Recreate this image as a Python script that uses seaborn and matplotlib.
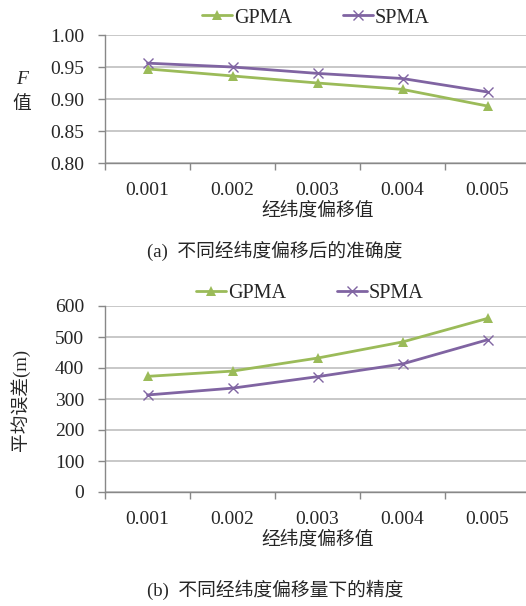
import matplotlib
matplotlib.use("Agg")
import matplotlib.pyplot as plt
import seaborn as sns
import pandas as pd
from matplotlib.ticker import FixedLocator
from matplotlib.lines import Line2D

offsets = ["0.001", "0.002", "0.003", "0.004", "0.005"]
f_gpma = [0.947, 0.936, 0.925, 0.915, 0.889]
f_spma = [0.956, 0.950, 0.940, 0.932, 0.911]
err_gpma = [373, 390, 432, 484, 560]
err_spma = [313, 335, 372, 413, 491]
series = ["GPMA", "SPMA"]

sns.set_theme(style="white")
FAM = ["Liberation Serif", "Noto Sans CJK SC", "DejaVu Sans"]
plt.rcParams["font.family"] = FAM
SERIF = "Liberation Serif"

green = "#9BBB59"
purple = "#8064A2"
grid = "#BFBFBF"
FS = 13.5
FSN = 14

fig = plt.figure(figsize=(5.26, 6.06), dpi=100)
W = 425 / 526
ax1 = fig.add_axes([105 / 526, 1 - 163 / 606, W, (163 - 35) / 606])
ax2 = fig.add_axes([105 / 526, 1 - 492 / 606, W, (492 - 306) / 606])

df1 = pd.DataFrame({"offset": offsets, "GPMA": f_gpma, "SPMA": f_spma})
df2 = pd.DataFrame({"offset": offsets, "GPMA": err_gpma, "SPMA": err_spma})


def draw(ax, df, ylim, yticks, yfmt):
    sns.lineplot(data=df, x="offset", y="GPMA", color=green, marker="^",
                 markersize=7, linewidth=2, markeredgewidth=0, mec=green, ax=ax)
    sns.lineplot(data=df, x="offset", y="SPMA", color=purple, marker="x",
                 markersize=6.5, linewidth=2, markeredgewidth=1.0, mec=purple, ax=ax)
    ax.set_xlim(-0.5, 4.5)
    ax.set_ylim(*ylim)
    ax.set_yticks(yticks)
    ax.set_yticklabels([yfmt(v) for v in yticks], fontsize=FSN, fontfamily=SERIF)
    ax.set_xticks(range(5))
    ax.set_xticklabels(offsets, fontsize=FSN, fontfamily=SERIF)
    ax.xaxis.set_minor_locator(FixedLocator([-0.5, 0.5, 1.5, 2.5, 3.5, 4.5]))
    ax.tick_params(axis="x", which="major", length=0, pad=14)
    ax.tick_params(axis="x", which="minor", length=5, color="#888888", width=1, direction="out", bottom=True)
    ax.tick_params(axis="y", length=5, color="#888888", width=1, direction="out", left=True, pad=10)
    ax.grid(axis="y", color=grid, linewidth=1.2)
    ax.set_axisbelow(True)
    for s in ["top", "right"]:
        ax.spines[s].set_visible(False)
    for s in ["left", "bottom"]:
        ax.spines[s].set_color("#888888")
        ax.spines[s].set_linewidth(1)
    ax.set_xlabel("经纬度偏移值", fontsize=FS, labelpad=2, fontfamily=FAM)
    ax.set_ylabel("")
    ax.set_facecolor("none")


draw(ax1, df1, (0.80, 1.00), [0.80, 0.85, 0.90, 0.95, 1.00], lambda v: f"{v:.2f}")
draw(ax2, df2, (0, 600), [0, 100, 200, 300, 400, 500, 600], lambda v: f"{v:d}")

# Y labels
fig.text(22 / 526, 1 - 80 / 606, "F", fontsize=FSN, style="italic", ha="center", va="center", fontfamily=SERIF)
fig.text(22 / 526, 1 - 104 / 606, "值", fontsize=FS, ha="center", va="center", fontfamily=FAM)
fig.text(20 / 526, 1 - 400 / 606, "平均误差(m)", fontsize=FS, rotation=90, ha="center", va="center", fontfamily=FAM)

# Legends
h = [Line2D([], [], color=green, marker="^", lw=2, markersize=7, markeredgewidth=0),
     Line2D([], [], color=purple, marker="x", lw=2, markersize=6.5, markeredgewidth=1.0)]
for ypix, xpix in [(18, 316), (293, 310)]:
    fig.legend(h, series, loc="center", bbox_to_anchor=(xpix / 526, 1 - ypix / 606), ncol=2,
               frameon=False, prop={"family": SERIF, "size": 14.5}, handlelength=1.5, handletextpad=0.1,
               columnspacing=2.5, borderpad=0)

# Captions
fig.text(275 / 526, 1 - 251 / 606, "(a)  不同经纬度偏移后的准确度", fontsize=FS, ha="center", va="center", fontfamily=FAM)
fig.text(275 / 526, 1 - 590 / 606, "(b)  不同经纬度偏移量下的精度", fontsize=FS, ha="center", va="center", fontfamily=FAM)

fig.savefig("out.png", dpi=100)
